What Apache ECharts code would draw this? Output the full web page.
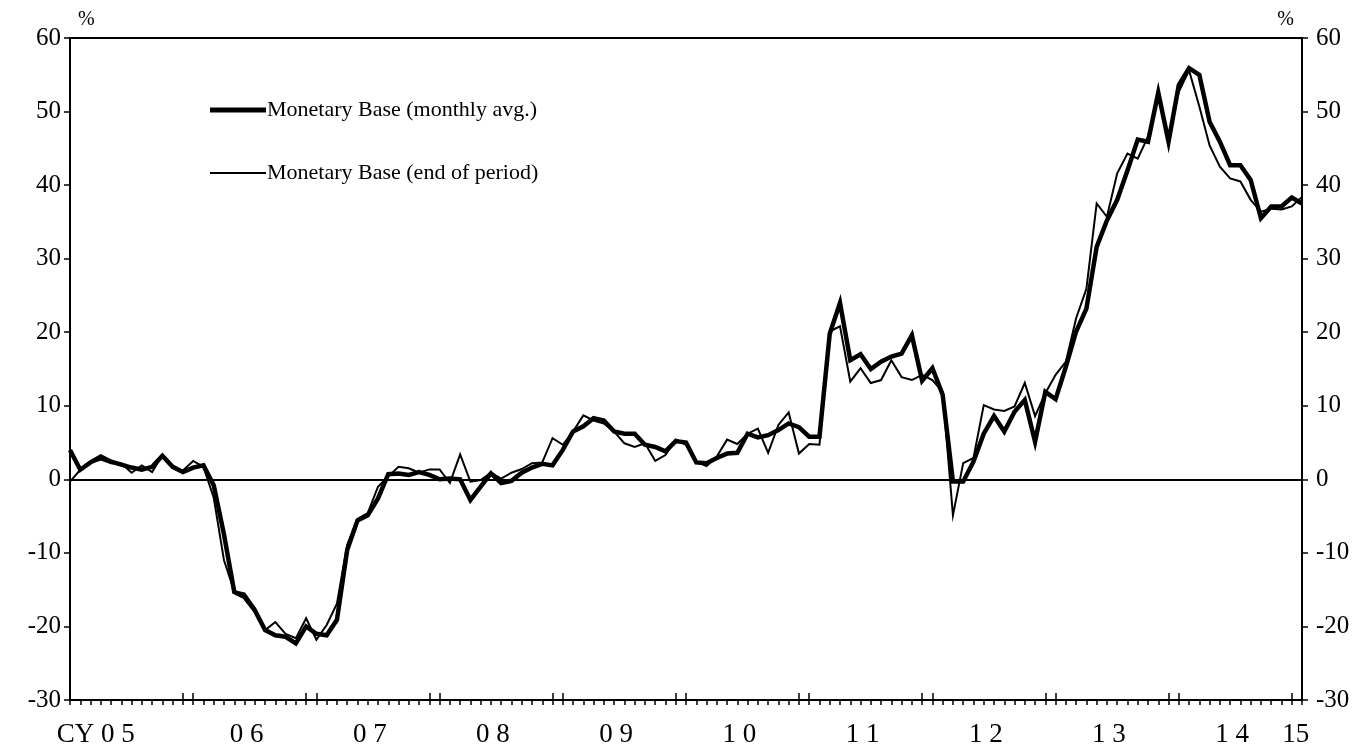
<!DOCTYPE html>
<html>
<head>
<meta charset="utf-8">
<script src="https://cdn.jsdelivr.net/npm/echarts@6/dist/echarts.min.js"></script>
<style>
html,body{margin:0;padding:0;background:#fff;}
#chart{width:1368px;height:749px;}
</style>
</head>
<body>
<div id="chart"></div>
<script>
// ---- data ----
const startYear = 2005;
const monthCount = 121; // Jan 2005 .. Jan 2015
const months = [];
for (let i = 0; i < monthCount; i++) {
  const y = startYear + Math.floor(i / 12);
  const m = (i % 12) + 1;
  months.push(y + '/' + (m < 10 ? '0' + m : m));
}

const seriesNames = ['Monetary Base (monthly avg.)', 'Monetary Base (end of period)'];

const mbAvg = [
  4.0, 1.3, 2.3, 3.1, 2.4, 2.0, 1.6, 1.3, 1.7, 3.2, 1.7, 1.0,
  1.6, 1.9, -0.8, -7.5, -15.3, -16.0, -17.8, -20.5, -21.2, -21.4, -22.3, -20.0,
  -21.0, -21.2, -19.1, -9.6, -5.6, -4.9, -2.6, 0.7, 0.8, 0.6, 1.0, 0.6,
  0.0, 0.1, 0.0, -2.8, -1.0, 0.8, -0.5, -0.2, 0.9, 1.6, 2.1, 1.9,
  4.0, 6.5, 7.2, 8.3, 8.0, 6.5, 6.2, 6.2, 4.7, 4.4, 3.8, 5.2,
  5.0, 2.3, 2.2, 2.9, 3.5, 3.6, 6.2, 5.7, 6.0, 6.7, 7.6, 7.1,
  5.8, 5.8, 19.8, 24.0, 16.2, 17.0, 15.0, 16.0, 16.7, 17.1, 19.6, 13.4,
  15.1, 11.5, -0.3, -0.3, 2.4, 6.2, 8.6, 6.5, 9.2, 10.8, 5.1, 11.9,
  10.9, 15.3, 20.1, 23.2, 31.6, 35.2, 38.0, 42.0, 46.2, 45.9, 52.6, 45.9,
  53.6, 55.9, 55.0, 48.6, 45.9, 42.7, 42.7, 40.7, 35.5, 37.1, 37.1, 38.3,
  37.5
];

const mbEnd = [
  -0.3, 1.3, 2.2, 2.7, 2.2, 2.2, 0.9, 1.9, 1.0, 3.3, 1.6, 1.2,
  2.5, 1.7, -2.5, -11.0, -15.2, -15.5, -17.5, -20.5, -19.4, -21.0, -21.6, -18.9,
  -21.8, -19.8, -16.9, -8.9, -5.4, -4.6, -1.0, 0.4, 1.7, 1.5, 0.9, 1.35,
  1.35, -0.5, 3.4, -0.3, -0.1, 0.9, 0.1, 0.9, 1.4, 2.2, 2.3, 5.6,
  4.7, 6.5, 8.7, 8.0, 7.6, 6.5, 4.9, 4.4, 4.9, 2.5, 3.3, 5.4,
  4.7, 2.4, 1.8, 3.1, 5.4, 4.8, 6.2, 6.9, 3.6, 7.4, 9.1, 3.5,
  4.8, 4.7, 20.1, 20.8, 13.3, 15.1, 13.1, 13.5, 16.2, 13.9, 13.5, 14.2,
  13.5, 11.9, -4.9, 2.2, 2.9, 10.1, 9.5, 9.3, 9.9, 13.1, 8.6, 11.7,
  14.2, 16.0, 21.9, 25.9, 37.5, 35.7, 41.6, 44.3, 43.6, 46.6, 52.2, 46.6,
  52.7, 55.6, 50.7, 45.4, 42.5, 40.9, 40.5, 38.0, 36.4, 36.8, 36.7, 37.1,
  38.4
];

const yearLabels = ['CY 0 5', '0 6', '0 7', '0 8', '0 9', '1 0', '1 1', '1 2', '1 3', '1 4', '15'];
const yMin = -30, yMax = 60, yStep = 10;

// ---- layout helpers ----
const FONT = "'Liberation Serif', 'Times New Roman', serif";
const labelPos = yearLabels.map((t, k) => {
  if (k === 0) return 2.5;
  if (k === yearLabels.length - 1) return monthCount - 1.6;
  return 12 * k + 5.2;
});

const chart = echarts.init(document.getElementById('chart'), null, {renderer: 'canvas'});

const legendText = {fontFamily: FONT, fontSize: 22, color: '#000', padding: [0, 0, 0, -4]};

const option = {
  backgroundColor: '#fff',
  animation: false,
  grid: {
    left: 70, right: 66, top: 38, bottom: 49,
    show: true, borderColor: '#000', borderWidth: 2,
    containLabel: false, outerBoundsMode: 'none'
  },
  legend: [
    {
      data: [{name: seriesNames[0], icon: 'rect'}],
      left: 210, top: 99, padding: 0, itemWidth: 56, itemHeight: 5, itemGap: 0,
      selectedMode: false,
      textStyle: legendText
    },
    {
      data: [{name: seriesNames[1], icon: 'rect'}],
      left: 210, top: 162, padding: 0, itemWidth: 56, itemHeight: 2, itemGap: 0,
      selectedMode: false,
      textStyle: legendText
    }
  ],
  xAxis: [
    {
      type: 'category', data: months, boundaryGap: false, position: 'bottom',
      axisLine: {show: true, onZero: false, lineStyle: {color: '#000', width: 2}},
      axisTick: {show: true, interval: 0, length: 5, lineStyle: {color: '#000', width: 1.5}},
      axisLabel: {show: false},
      splitLine: {show: false}
    },
    {
      type: 'category', data: months, boundaryGap: false, position: 'bottom',
      axisLine: {show: false, onZero: false},
      axisTick: {
        show: true, inside: true, length: 7,
        interval: function (idx) { return idx > 0 && (idx % 12 === 11 || idx % 12 === 0); },
        lineStyle: {color: '#000', width: 1.5}
      },
      axisLabel: {show: false},
      splitLine: {show: false}
    },
    {
      type: 'value', min: 0, max: monthCount - 1, position: 'bottom',
      axisLine: {show: false, onZero: false},
      axisTick: {show: false},
      splitLine: {show: false},
      axisLabel: {
        show: true, customValues: labelPos,
        formatter: function (v) {
          let best = 0, d = Infinity;
          labelPos.forEach((p, k) => { if (Math.abs(p - v) < d) { d = Math.abs(p - v); best = k; } });
          return yearLabels[best];
        },
        fontFamily: FONT, fontSize: 27, color: '#000', margin: 21
      }
    }
  ],
  yAxis: [
    {
      type: 'value', min: yMin, max: yMax, interval: yStep, position: 'left',
      name: '%', nameLocation: 'end', nameGap: 8,
      nameTextStyle: {fontFamily: FONT, fontSize: 20, color: '#000', align: 'left', padding: [0, 0, 0, 8]},
      axisLine: {show: true, onZero: false, lineStyle: {color: '#000', width: 2}},
      axisTick: {show: true, length: 6, lineStyle: {color: '#000', width: 1.5}},
      axisLabel: {fontFamily: FONT, fontSize: 25, color: '#000', margin: 9},
      splitLine: {show: false}
    },
    {
      type: 'value', min: yMin, max: yMax, interval: yStep, position: 'right',
      name: '%', nameLocation: 'end', nameGap: 8,
      nameTextStyle: {fontFamily: FONT, fontSize: 20, color: '#000', align: 'right', padding: [0, 8, 0, 0]},
      axisLine: {show: true, onZero: false, lineStyle: {color: '#000', width: 2}},
      axisTick: {show: true, length: 6, lineStyle: {color: '#000', width: 1.5}},
      axisLabel: {fontFamily: FONT, fontSize: 25, color: '#000', margin: 14},
      splitLine: {show: false}
    }
  ],
  series: [
    {
      name: seriesNames[0], type: 'line', data: mbAvg,
      xAxisIndex: 0, yAxisIndex: 0,
      symbol: 'none', showSymbol: false,
      lineStyle: {color: '#000', width: 4.5, join: 'miter'},
      itemStyle: {color: '#000'},
      z: 3,
      markLine: {
        silent: true, symbol: 'none', animation: false,
        label: {show: false},
        lineStyle: {color: '#000', width: 2, type: 'solid'},
        data: [{yAxis: 0}]
      }
    },
    {
      name: seriesNames[1], type: 'line', data: mbEnd,
      xAxisIndex: 0, yAxisIndex: 0,
      symbol: 'none', showSymbol: false,
      lineStyle: {color: '#000', width: 2, join: 'miter'},
      itemStyle: {color: '#000'},
      z: 4
    }
  ]
};

chart.setOption(option);
</script>
</body>
</html>
